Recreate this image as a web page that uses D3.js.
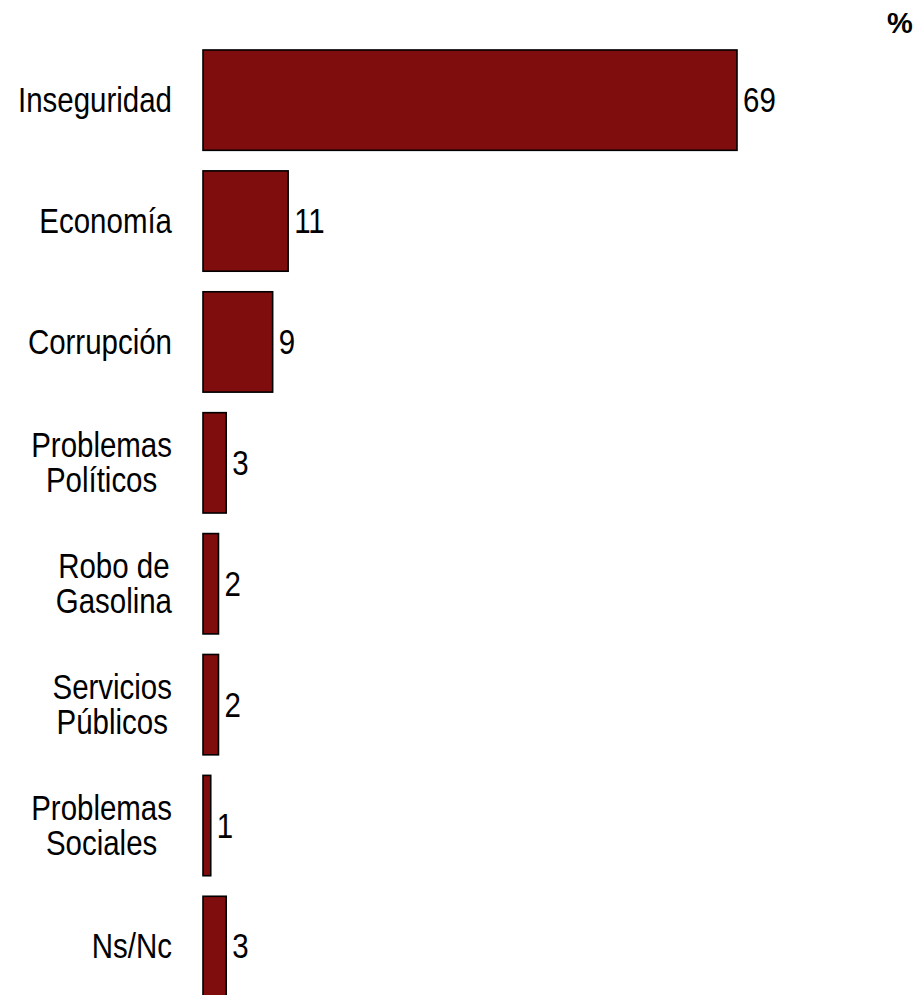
<!DOCTYPE html>
<html><head><meta charset="utf-8">
<script src="https://cdn.jsdelivr.net/npm/d3@7"></script>
<style>html,body{margin:0;padding:0;background:#fff;overflow:hidden}</style>
</head><body>
<script>
const categories = ["Inseguridad","Economía","Corrupción","Problemas\nPolíticos","Robo de\nGasolina","Servicios\nPúblicos","Problemas\nSociales","Ns/Nc"];
const values = [69, 11, 9, 3, 2, 2, 1, 3];
const unitLabel = "%";

const W = 918, H = 995;
const svg = d3.select("body").append("svg").attr("width", W).attr("height", H);
const FONT = "'Liberation Sans',Arial,sans-serif";
const NARROW = 0.83;

const x = d3.scaleLinear().domain([0, 69]).range([203, 737]);
const y = d3.scaleBand().domain(categories).range([39.7, 1006.9]).paddingInner(0.17).paddingOuter(0.085);

const data = categories.map((c, i) => ({c, v: values[i]}));

svg.selectAll("rect.bar").data(data).enter().append("rect")
  .attr("class", "bar")
  .attr("x", x(0))
  .attr("y", d => y(d.c))
  .attr("width", d => x(d.v) - x(0))
  .attr("height", y.bandwidth())
  .attr("fill", "#7f0d0d")
  .attr("stroke", "#000")
  .attr("stroke-width", 1.6);

const baseOff = 12, lh = 35, fs = 35.5;

function narrowText(px, py, str, anchor) {
  const g = svg.append("g").attr("transform", `translate(${px},${py}) scale(${NARROW},1)`);
  return g.append("text")
    .attr("x", 0).attr("y", 0)
    .attr("font-family", FONT).attr("font-size", fs).attr("fill", "#000")
    .attr("text-anchor", anchor)
    .text(str);
}

data.forEach(d => {
  narrowText(x(d.v) + 6, y(d.c) + y.bandwidth() / 2 + baseOff, d.v, "start");
});

const labelRight = 172;
data.forEach(d => {
  const lines = d.c.split("\n");
  const cy = y(d.c) + y.bandwidth() / 2;
  const tmp = lines.map(ln => svg.append("text").attr("font-family", FONT).attr("font-size", fs).text(ln));
  const maxW = d3.max(tmp, t => t.node().getComputedTextLength()) * NARROW;
  tmp.forEach(t => t.remove());
  lines.forEach((ln, j) => {
    narrowText(labelRight - maxW / 2, cy + baseOff - (lines.length - 1) * lh / 2 + j * lh, ln, "middle");
  });
});

svg.append("text").attr("x", 900).attr("y", 33)
  .attr("text-anchor", "middle")
  .attr("font-family", FONT)
  .attr("font-weight", "bold").attr("font-size", 29).attr("fill", "#000")
  .text(unitLabel);
</script>
</body></html>
